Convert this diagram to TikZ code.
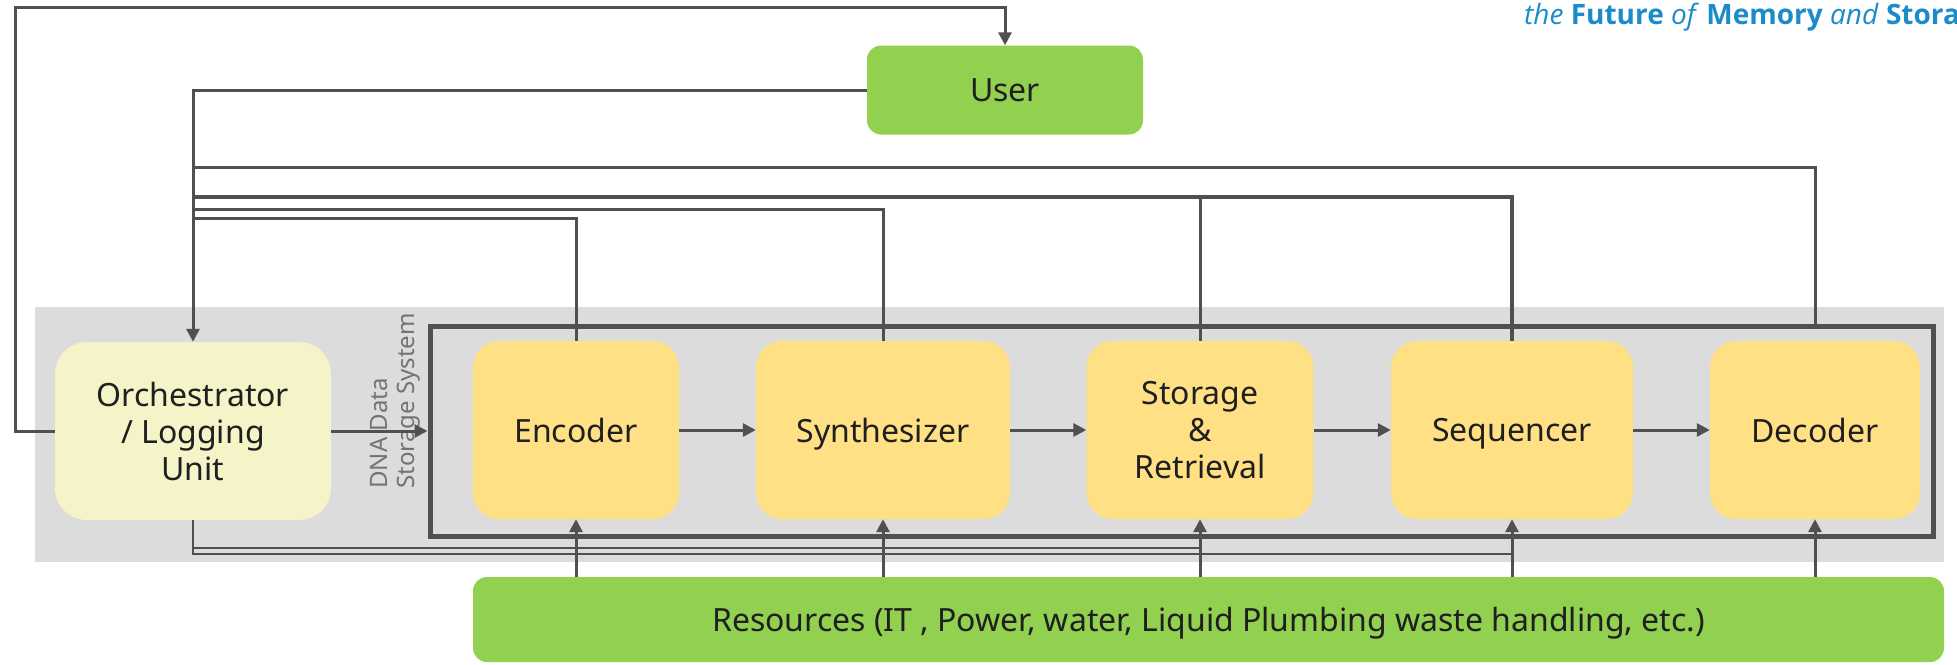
\documentclass[tikz,border=0pt]{standalone}
\usepackage{fontspec}
\setmainfont{Noto Sans}
\newfontfamily\logofont{Open Sans}
\usetikzlibrary{arrows.meta}
\definecolor{boxgreen}{HTML}{92D050}
\definecolor{boxyellow}{HTML}{FFE085}
\definecolor{boxcream}{HTML}{F5F3C8}
\definecolor{sysgray}{HTML}{DCDCDC}
\definecolor{wiregray}{HTML}{505050}
\definecolor{logoblue}{HTML}{1B8BC9}

\begin{document}
\begin{tikzpicture}[x=1pt, y=-1pt,
    block/.style={rounded corners=26pt, inner sep=0pt, align=center, text=black!88,
        font=\fontsize{32}{37}\selectfont, minimum height=178pt, text depth=0pt},
    wire/.style={draw=wiregray, line width=3pt},
    feed/.style={wire, -{Triangle[length=13pt, width=13pt]}}]
    \useasboundingbox (0,0) rectangle (1957,664);
    \fill[sysgray] (35,307) rectangle (1944,562);

    \node[block, fill=boxgreen, minimum width=276pt, minimum height=89pt, rounded corners=14pt] at (1005,90) (1) {User};
    \node[block, fill=boxcream, minimum width=276pt, rounded corners=32pt] at (193,431) (2) {Orchestrator\\/ Logging\\Unit};
    \node[draw=wiregray, line width=5pt, minimum width=1503pt, minimum height=210pt, inner sep=0pt] at (1181.5,431) (3) {};
    \node[block, fill=boxyellow, minimum width=206pt] at (576,430) (4) {Encoder};
    \node[block, fill=boxyellow, minimum width=254pt] at (883,430) (5) {Synthesizer};
    \node[block, fill=boxyellow, minimum width=227pt] at (1200,430) (6) {Storage\\\&\\Retrieval};
    \node[block, fill=boxyellow, minimum width=242pt] at (1512,430) (7) {Sequencer};
    \node[block, fill=boxyellow, minimum width=210pt] at (1815,430) (8) {Decoder};
    \node[block, fill=boxgreen, minimum width=1471pt, minimum height=85pt, rounded corners=14pt] at (1208.5,619.5) (9) {Resources (IT , Power, water, Liquid Plumbing waste handling, etc.)};
    \node[rotate=90, align=left, inner sep=0pt, text=black!55, font=\fontsize{24}{27}\selectfont] at (395,401) (10) {DNA Data\\Storage System};
    \node[anchor=base west, inner sep=0pt, text=logoblue, font=\logofont\fontsize{28}{30}\selectfont] at (1524,24) (11) {\textit{the} \textbf{Future} \textit{of} \textbf{Memory} \textit{and} \textbf{Storage}};

    \coordinate (a) at (15,7);
    \coordinate (b1) at (193,167);
    \coordinate (b2) at (193,197);
    \coordinate (b3) at (193,209);
    \coordinate (b4) at (193,218);
    \coordinate (c1) at (193,548);
    \coordinate (c2) at (193,554);

    \draw[feed] (2.west) -| (a) -| (1.north);
    \draw[feed] (1.west) -| (2.north);

    \draw[wire] (b1) -| (8 |- 3.north);
    \draw[wire, line width=4.5pt] (b2) -| (7.north);
    \draw[wire] (6.north) -- (6.north |- b2);
    \draw[wire] (b3) -| (5.north);
    \draw[wire] (b4) -| (4.north);

    \draw[feed] (2.east) -- (3.west);
    \draw[feed] (4.east) -- (5.west);
    \draw[feed] (5.east) -- (6.west);
    \draw[feed] (6.east) -- (7.west);
    \draw[feed] (7.east) -- (8.west);

    \foreach \n in {4,...,8}
        \draw[feed] (9.north -| \n) -- (\n.south);

    \draw[wire, line width=2pt] (2.south) |- (c1 -| 6);
    \draw[wire, line width=2pt] (2.south) |- (c2 -| 7);
\end{tikzpicture}
\end{document}
